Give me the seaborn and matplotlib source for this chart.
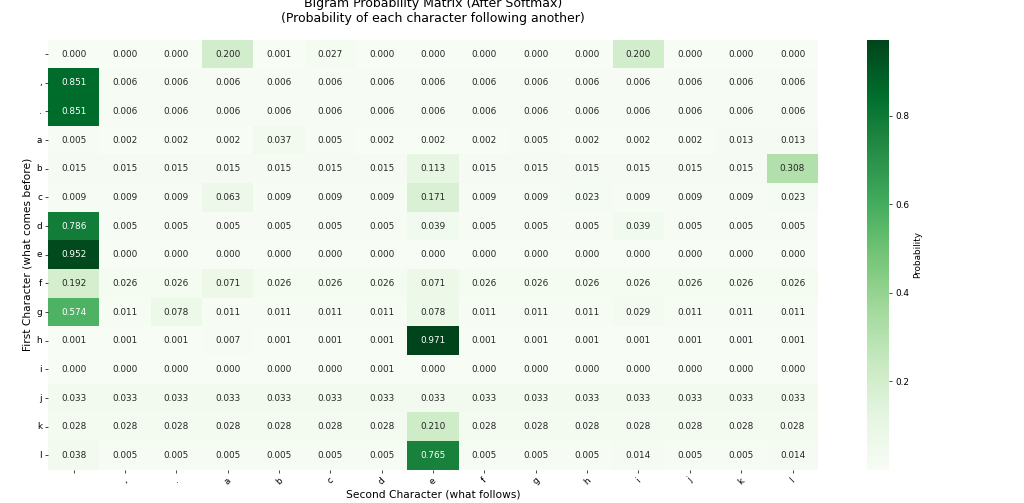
import numpy as np
import pandas as pd
import seaborn as sns
import matplotlib.pyplot as plt

#=============================== Data
chars = [' ', ',', '.', 'a', 'b', 'c', 'd', 'e', 'f', 'g', 'h', 'i', 'j', 'k', 'l']

row_space = [0.000, 0.000, 0.000, 0.200, 0.001, 0.027, 0.000, 0.000, 0.000, 0.000, 0.000, 0.200, 0.000, 0.000, 0.000]
row_comma = [0.851, 0.006, 0.006, 0.006, 0.006, 0.006, 0.006, 0.006, 0.006, 0.006, 0.006, 0.006, 0.006, 0.006, 0.006]
row_dot = [0.851, 0.006, 0.006, 0.006, 0.006, 0.006, 0.006, 0.006, 0.006, 0.006, 0.006, 0.006, 0.006, 0.006, 0.006]
row_a = [0.005, 0.002, 0.002, 0.002, 0.037, 0.005, 0.002, 0.002, 0.002, 0.005, 0.002, 0.002, 0.002, 0.013, 0.013]
row_b = [0.015, 0.015, 0.015, 0.015, 0.015, 0.015, 0.015, 0.113, 0.015, 0.015, 0.015, 0.015, 0.015, 0.015, 0.308]
row_c = [0.009, 0.009, 0.009, 0.063, 0.009, 0.009, 0.009, 0.171, 0.009, 0.009, 0.023, 0.009, 0.009, 0.009, 0.023]
row_d = [0.786, 0.005, 0.005, 0.005, 0.005, 0.005, 0.005, 0.039, 0.005, 0.005, 0.005, 0.039, 0.005, 0.005, 0.005]
row_e = [0.952, 0.000, 0.000, 0.000, 0.000, 0.000, 0.000, 0.000, 0.000, 0.000, 0.000, 0.000, 0.000, 0.000, 0.000]
row_f = [0.192, 0.026, 0.026, 0.071, 0.026, 0.026, 0.026, 0.071, 0.026, 0.026, 0.026, 0.026, 0.026, 0.026, 0.026]
row_g = [0.574, 0.011, 0.078, 0.011, 0.011, 0.011, 0.011, 0.078, 0.011, 0.011, 0.011, 0.029, 0.011, 0.011, 0.011]
row_h = [0.001, 0.001, 0.001, 0.007, 0.001, 0.001, 0.001, 0.971, 0.001, 0.001, 0.001, 0.001, 0.001, 0.001, 0.001]
row_i = [0.000, 0.000, 0.000, 0.000, 0.000, 0.000, 0.001, 0.000, 0.000, 0.000, 0.000, 0.000, 0.000, 0.000, 0.000]
row_j = [0.033, 0.033, 0.033, 0.033, 0.033, 0.033, 0.033, 0.033, 0.033, 0.033, 0.033, 0.033, 0.033, 0.033, 0.033]
row_k = [0.028, 0.028, 0.028, 0.028, 0.028, 0.028, 0.028, 0.210, 0.028, 0.028, 0.028, 0.028, 0.028, 0.028, 0.028]
row_l = [0.038, 0.005, 0.005, 0.005, 0.005, 0.005, 0.005, 0.765, 0.005, 0.005, 0.005, 0.014, 0.005, 0.005, 0.014]

rows = [row_space, row_comma, row_dot, row_a, row_b, row_c, row_d, row_e,
        row_f, row_g, row_h, row_i, row_j, row_k, row_l]
probs = pd.DataFrame(np.array(rows), index=chars, columns=chars)

#=============================== Plot
fig = plt.figure(figsize=(16, 7.86), dpi=64)
ax = fig.add_axes([0.047, 0.066, 0.752, 0.855])
cax = fig.add_axes([0.847, 0.066, 0.0215, 0.855])

# the raw (unrounded) minimum sits just above zero, so no 0.0 tick on the bar
sns.heatmap(probs, ax=ax, cbar_ax=cax, cmap='Greens', annot=True, fmt='.3f',
            vmin=0.0008, cbar_kws={'label': 'Probability'})

ax.set_title("Bigram Probability Matrix (After Softmax)\n"
             "(Probability of each character following another)",
             fontsize=14, pad=20)
ax.set_xlabel("Second Character (what follows)", fontsize=12)
ax.set_ylabel("First Character (what comes before)", fontsize=12)
ax.tick_params(axis='x', rotation=45)
ax.tick_params(axis='y', rotation=0)

fig.savefig('out.png', dpi=64)
